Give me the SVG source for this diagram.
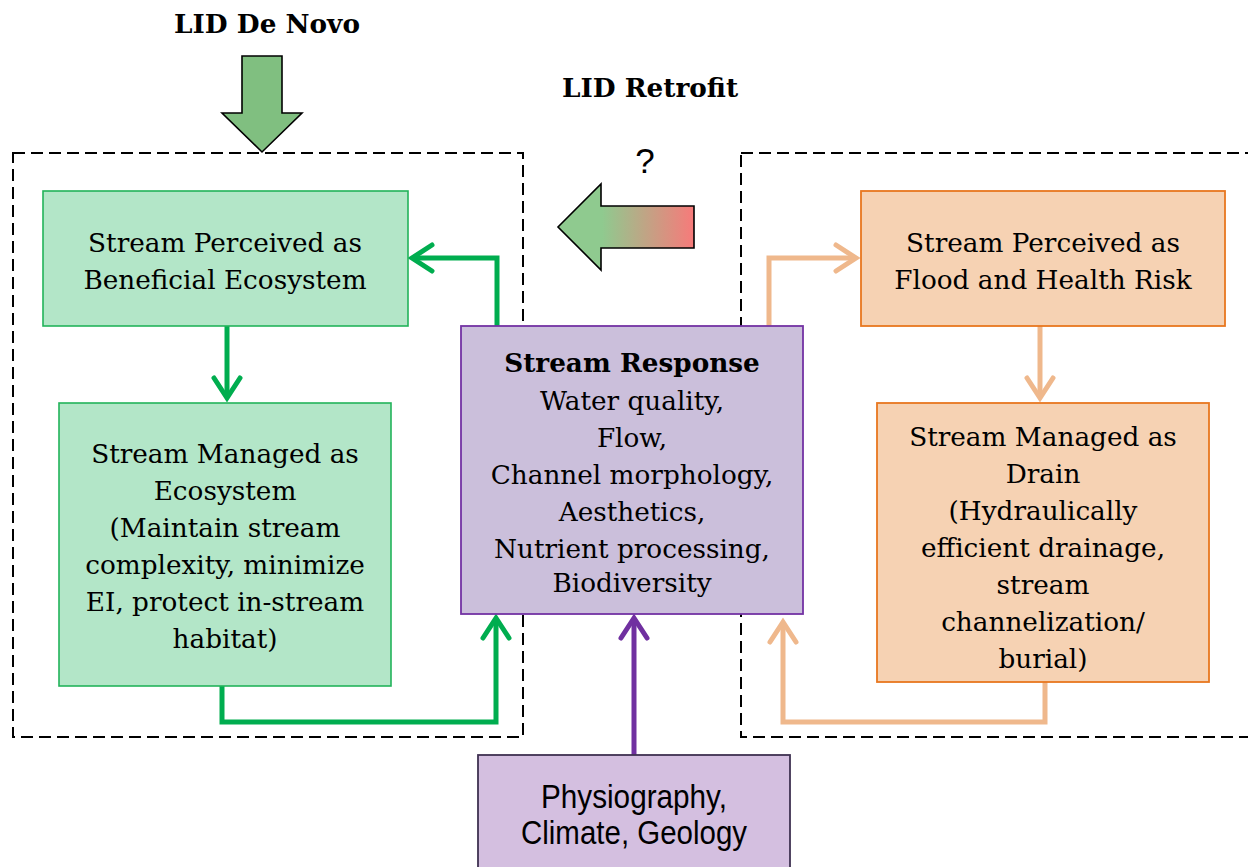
<svg xmlns="http://www.w3.org/2000/svg" width="1248" height="867" viewBox="0 0 1248 867">
<style>
.t{font-family:"DejaVu Serif","Liberation Serif",serif;font-size:26.3px;fill:#000;text-anchor:middle}
.b{font-weight:bold}
.dash{fill:none;stroke:#000;stroke-width:2;stroke-dasharray:12 6}
.g{fill:#b3e6c8;stroke:#22b35a;stroke-width:1.6}
.o{fill:#f6d2b3;stroke:#e8771f;stroke-width:1.8}
.p{fill:#cbbfdb;stroke:#7332a3;stroke-width:1.8}
.p2{fill:#d4bfe0;stroke:#3f3151;stroke-width:1.8}
.cg{fill:none;stroke:#00ad4f;stroke-width:5}
.co{fill:none;stroke:#efb88c;stroke-width:5}
.cp{fill:none;stroke:#7030a0;stroke-width:5}
.n{font-family:"Liberation Sans",sans-serif;font-size:33px;text-anchor:middle;fill:#000}
</style>
<defs>
<marker id="ag" viewBox="-26 -16 30 32" refX="0" refY="0" markerWidth="30" markerHeight="32" markerUnits="userSpaceOnUse" orient="auto" overflow="visible"><path d="M-20,-13 L0,0 L-20,13" fill="none" stroke="#00ad4f" stroke-width="5" stroke-linecap="round"/></marker>
<marker id="ao" viewBox="-26 -16 30 32" refX="0" refY="0" markerWidth="30" markerHeight="32" markerUnits="userSpaceOnUse" orient="auto" overflow="visible"><path d="M-20,-13 L0,0 L-20,13" fill="none" stroke="#efb88c" stroke-width="5" stroke-linecap="round"/></marker>
<marker id="ap" viewBox="-26 -16 30 32" refX="0" refY="0" markerWidth="30" markerHeight="32" markerUnits="userSpaceOnUse" orient="auto" overflow="visible"><path d="M-20,-13 L0,0 L-20,13" fill="none" stroke="#7030a0" stroke-width="5" stroke-linecap="round"/></marker>
<linearGradient id="grad" gradientUnits="userSpaceOnUse" x1="602" y1="0" x2="694" y2="0">
<stop offset="0" stop-color="#8fca8f"/><stop offset="1" stop-color="#f77a7a"/>
</linearGradient>
</defs>

<g id="frames">
<rect class="dash" x="13" y="153" width="510" height="584"/>
<rect class="dash" x="741" y="153" width="530" height="584"/>
</g>

<g id="lid-de-novo">
<text class="t b" x="267" y="33" font-size="25">LID De Novo</text>
<polygon points="242,56 282,56 282,113 302,113 262,152 222,113 242,113" fill="#80bf80" stroke="#000" stroke-width="1.6"/>
</g>

<g id="lid-retrofit">
<text class="t b" x="650" y="97" font-size="25.5">LID Retrofit</text>
<text x="645" y="173" font-family="Liberation Sans, sans-serif" font-size="35" text-anchor="middle">?</text>
<polygon points="694,206 601,206 601,184 558,227 601,270 601,248 694,248" fill="url(#grad)" stroke="#000" stroke-width="1.6"/>
</g>

<g id="connectors">
<path class="cg" d="M497,326 V258 H412" marker-end="url(#ag)"/>
<path class="cg" d="M227,326 V398" marker-end="url(#ag)"/>
<path class="cg" d="M222,686 V722 H496 V618" marker-end="url(#ag)"/>
<path class="cp" d="M634,755 V618" marker-end="url(#ap)"/>
<path class="co" d="M769,326 V258 H856" marker-end="url(#ao)"/>
<path class="co" d="M1040,326 V398" marker-end="url(#ao)"/>
<path class="co" d="M1045,682 V722 H783 V622" marker-end="url(#ao)"/>
</g>

<g id="perceived-beneficial">
<rect class="g" x="43" y="191" width="365" height="135"/>
<text class="t" x="225" y="252">Stream Perceived as</text>
<text class="t" x="225" y="289">Beneficial Ecosystem</text>
</g>

<g id="managed-ecosystem">
<rect class="g" x="59" y="403" width="332" height="283"/>
<text class="t" x="225" y="463">Stream Managed as</text>
<text class="t" x="225" y="500">Ecosystem</text>
<text class="t" x="225" y="537"> (Maintain stream</text>
<text class="t" x="225" y="574">complexity, minimize</text>
<text class="t" x="225" y="611">EI, protect in-stream</text>
<text class="t" x="225" y="648">habitat)</text>
</g>

<g id="stream-response">
<rect class="p" x="461" y="326" width="342" height="288"/>
<text class="t b" x="632" y="372">Stream Response</text>
<text class="t" x="632" y="410">Water quality,</text>
<text class="t" x="632" y="447">Flow,</text>
<text class="t" x="632" y="484">Channel morphology,</text>
<text class="t" x="632" y="521">Aesthetics,</text>
<text class="t" x="632" y="558">Nutrient processing,</text>
<text class="t" x="632" y="592" font-size="17.5">Biodiversity</text>
</g>

<g id="perceived-risk">
<rect class="o" x="861" y="191" width="364" height="135"/>
<text class="t" x="1043" y="252">Stream Perceived as</text>
<text class="t" x="1043" y="289">Flood and Health Risk</text>
</g>

<g id="managed-drain">
<rect class="o" x="877" y="403" width="332" height="279"/>
<text class="t" x="1043" y="446">Stream Managed as</text>
<text class="t" x="1043" y="483">Drain</text>
<text class="t" x="1043" y="520"> (Hydraulically</text>
<text class="t" x="1043" y="557">efficient drainage,</text>
<text class="t" x="1043" y="594">stream</text>
<text class="t" x="1043" y="631">channelization/</text>
<text class="t" x="1043" y="668">burial)</text>
</g>

<g id="physiography">
<rect class="p2" x="478" y="755" width="312" height="125"/>
<text class="n" x="634" y="808" textLength="186" lengthAdjust="spacingAndGlyphs">Physiography,</text>
<text class="n" x="634" y="844" textLength="226" lengthAdjust="spacingAndGlyphs">Climate, Geology</text>
</g>
</svg>
